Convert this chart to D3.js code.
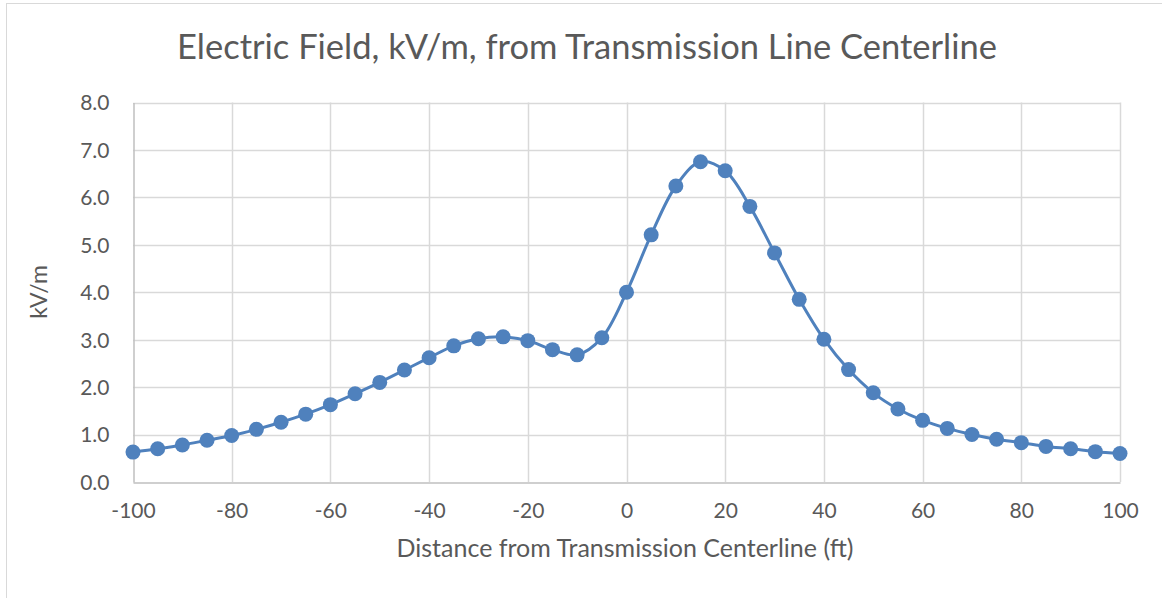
<!DOCTYPE html>
<html>
<head>
<meta charset="utf-8">
<script src="https://cdn.jsdelivr.net/npm/d3@7"></script>
<style>
  body { margin: 0; background: #fff; }
  svg { display: block; font-family: Lato, "Open Sans", sans-serif; }
</style>
</head>
<body>
<svg id="chart" width="1162" height="598"></svg>
<script>
// 거리 (ft)
const distance = [-100, -95, -90, -85, -80, -75, -70, -65, -60, -55, -50, -45, -40, -35, -30, -25, -20, -15, -10, -5,
  0, 5, 10, 15, 20, 25, 30, 35, 40, 45, 50, 55, 60, 65, 70, 75, 80, 85, 90, 95, 100];
// 전계 (kV/m)
const field = [0.63, 0.70, 0.78, 0.88, 0.98, 1.11, 1.26, 1.43, 1.63, 1.86, 2.10, 2.36, 2.62, 2.87, 3.02, 3.06, 2.98, 2.79, 2.68, 3.04,
  4.00, 5.21, 6.24, 6.75, 6.56, 5.81, 4.83, 3.85, 3.01, 2.37, 1.88, 1.54, 1.30, 1.13, 1.00, 0.90, 0.83, 0.75, 0.70, 0.64, 0.60];
const xTicks = [-100, -80, -60, -40, -20, 0, 20, 40, 60, 80, 100];
const yTicks = [0, 1, 2, 3, 4, 5, 6, 7, 8];

const svg = d3.select('#chart');
const margin = { left: 133, right: 1120, top: 102.5, bottom: 482 };

// 외곽선
svg.append('rect')
  .attr('x', 6.5).attr('y', 3.5)
  .attr('width', 1170).attr('height', 610)
  .style('fill', 'none')
  .style('stroke', '#d9d9d9');

const x = d3.scaleLinear().domain([-100, 100]).range([margin.left, margin.right]);
const y = d3.scaleLinear().domain([0, 8]).range([margin.bottom, margin.top]);

// 그리드
const grid = svg.append('g');
grid.selectAll('.hg').data(yTicks.slice(1)).enter().append('line')
  .attr('x1', margin.left).attr('x2', margin.right)
  .attr('y1', d => Math.round(y(d)) + 0.5).attr('y2', d => Math.round(y(d)) + 0.5)
  .style('stroke', '#d9d9d9').style('stroke-width', 1.5);
grid.selectAll('.vg').data(xTicks.slice(1)).enter().append('line')
  .attr('y1', margin.top).attr('y2', margin.bottom)
  .attr('x1', d => Math.round(x(d)) + 0.5).attr('x2', d => Math.round(x(d)) + 0.5)
  .style('stroke', '#d9d9d9').style('stroke-width', 1.5);

// 축
const xAxis = svg.append('g')
  .attr('transform', 'translate(0,' + (margin.bottom + 0.5) + ')')
  .call(d3.axisBottom(x).tickValues(xTicks).tickSize(0).tickPadding(21).tickFormat(d => String(d)));
xAxis.select('.domain').style('stroke', '#bfbfbf').style('stroke-width', 1.5);

const yAxis = svg.append('g')
  .attr('transform', 'translate(' + (margin.left + 0.5) + ',0)')
  .call(d3.axisLeft(y).tickValues(yTicks).tickSize(0).tickPadding(24).tickFormat(d3.format('.1f')));
yAxis.select('.domain').style('stroke', '#bfbfbf').style('stroke-width', 1.5);

svg.selectAll('.tick text')
  .style('font-family', 'Lato, sans-serif')
  .style('font-size', '21px')
  .style('fill', '#595959');
yAxis.selectAll('.tick text').attr('dy', '0.35em');

// 선
const line = d3.line()
  .x((d, i) => x(distance[i]))
  .y(d => y(d))
  .curve(d3.curveCatmullRom.alpha(0.5));

svg.append('path')
  .datum(field)
  .attr('d', line)
  .style('fill', 'none')
  .style('stroke', '#4f81bd')
  .style('stroke-width', 3);

// 마커
svg.selectAll('.pt').data(field).enter().append('circle')
  .attr('cx', (d, i) => x(distance[i]))
  .attr('cy', d => y(d))
  .attr('r', 7.5)
  .style('fill', '#4f81bd');

// 텍스트
svg.append('text')
  .attr('x', 587).attr('y', 59)
  .style('text-anchor', 'middle')
  .style('font-size', '34.5px')
  .style('fill', '#595959')
  .text('Electric Field, kV/m, from Transmission Line Centerline');

svg.append('text')
  .attr('x', 625).attr('y', 557)
  .style('text-anchor', 'middle')
  .style('font-size', '25px')
  .style('fill', '#595959')
  .text('Distance from Transmission Centerline (ft)');

svg.append('text')
  .attr('transform', 'translate(47,292) rotate(-90)')
  .style('text-anchor', 'middle')
  .style('font-size', '23px')
  .style('fill', '#595959')
  .text('kV/m');
</script>
</body>
</html>
